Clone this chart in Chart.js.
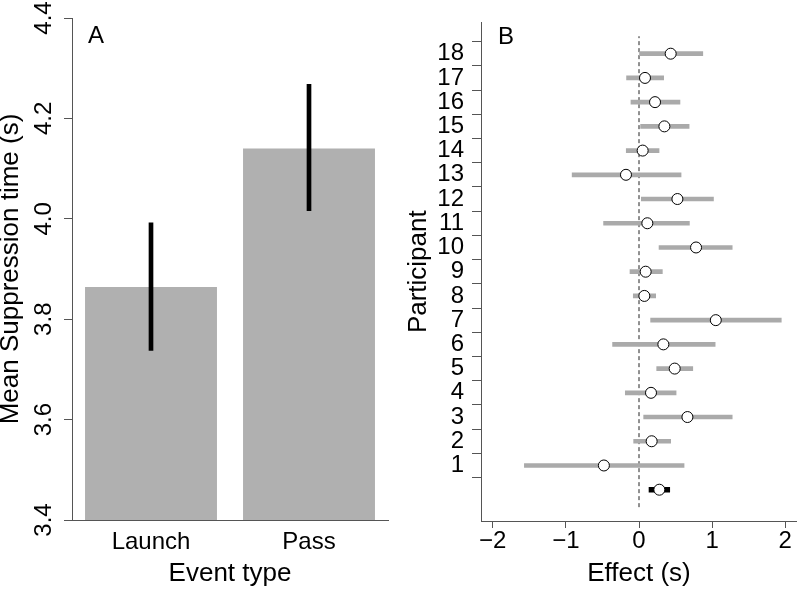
<!DOCTYPE html>
<html>
<head>
<meta charset="utf-8">
<script src="https://cdn.jsdelivr.net/npm/chart.js@4/dist/chart.umd.min.js"></script>
<style>
  html, body { margin: 0; padding: 0; background: #fff; }
  #wrap { position: relative; width: 797px; height: 589px; overflow: hidden; }
  #boxA { position: absolute; left: 0; top: 0; width: 400px; height: 589px; }
  #boxB { position: absolute; left: 400px; top: 0; width: 397px; height: 589px; }
</style>
</head>
<body>
<div id="wrap">
  <div id="boxA"><canvas id="chartA" width="400" height="589"></canvas></div>
  <div id="boxB"><canvas id="chartB" width="397" height="589"></canvas></div>
</div>
<script>
// ---------- Panel A data ----------
const eventTypes = ['Launch', 'Pass'];
const meanSuppression = [3.864, 4.14];
const errLowA = [3.738, 4.016];
const errHighA = [3.992, 4.268];
const yTicksA = [3.4, 3.6, 3.8, 4.0, 4.2, 4.4];
const yTickLabelsA = ['3.4', '3.6', '3.8', '4.0', '4.2', '4.4'];

// ---------- Panel B data ----------
const participants = [1, 2, 3, 4, 5, 6, 7, 8, 9, 10, 11, 12, 13, 14, 15, 16, 17, 18];
const effects = [-0.48, 0.173, 0.662, 0.164, 0.488, 0.333, 1.05, 0.073, 0.091, 0.78, 0.114, 0.525, -0.178, 0.05, 0.347, 0.219, 0.082, 0.433];
const effectLow = [-1.567, -0.073, 0.064, -0.187, 0.242, -0.361, 0.159, -0.078, -0.123, 0.274, -0.484, 0.032, -0.914, -0.174, 0.022, -0.11, -0.17, 0.0];
const effectHigh = [0.616, 0.433, 1.274, 0.507, 0.735, 1.041, 1.945, 0.228, 0.319, 1.274, 0.689, 1.018, 0.575, 0.274, 0.685, 0.56, 0.337, 0.872];
const summaryRow = [0];
const summaryEffect = [0.278];
const summaryLow = [0.137];
const summaryHigh = [0.42];
const xTicksB = [-2, -1, 0, 1, 2];
const xTickLabelsB = ['\u22122', '\u22121', '0', '1', '2'];
const yRangeB = [-0.72, 18.72];
const xRangeB = [-2.16, 2.16];

Chart.defaults.font.family = "'Liberation Sans', Arial, Helvetica, sans-serif";
Chart.defaults.color = '#000';

const AXIS = '#555';
const TICKFONT = { size: 24 };
const TITLEFONT = { size: 26 };

function panelLetter(letter, x, y) {
  return {
    id: 'letter' + letter,
    afterDraw(chart) {
      const ctx = chart.ctx;
      ctx.save();
      ctx.font = "24px 'Liberation Sans', Arial, sans-serif";
      ctx.fillStyle = '#000';
      ctx.textAlign = 'left';
      ctx.textBaseline = 'alphabetic';
      ctx.fillText(letter, x, y);
      ctx.restore();
    }
  };
}

function noSidePadding(s) {
  s.paddingLeft = 0;
  s.paddingRight = 0;
}

// ---------- Chart A ----------
new Chart(document.getElementById('chartA'), {
  type: 'bar',
  data: {
    labels: eventTypes,
    datasets: [
      {
        data: errLowA.map((l, i) => [l, errHighA[i]]),
        backgroundColor: '#000',
        barThickness: 4,
        grouped: false,
        order: 1
      },
      {
        data: meanSuppression,
        backgroundColor: '#b0b0b0',
        barPercentage: 0.835,
        categoryPercentage: 1,
        grouped: false,
        order: 2
      }
    ]
  },
  options: {
    responsive: false,
    animation: false,
    devicePixelRatio: 1,
    layout: { autoPadding: false, padding: { top: 18, right: 12, left: 0, bottom: 0 } },
    plugins: { legend: { display: false }, tooltip: { enabled: false } },
    scales: {
      x: {
        grid: { display: false, drawTicks: false },
        border: { display: true, color: AXIS, width: 1 },
        ticks: { font: TICKFONT, color: '#000', padding: 8 },
        title: { display: true, text: 'Event type', font: TITLEFONT, color: '#000', padding: { top: 0, bottom: 0 } },
        afterFit: s => { s.height = 69; noSidePadding(s); }
      },
      y: {
        min: 3.4,
        max: 4.4,
        afterBuildTicks: s => { s.ticks = yTicksA.map(v => ({ value: v })); },
        ticks: {
          autoSkip: false,
          minRotation: 90,
          maxRotation: 90,
          crossAlign: 'center',
          padding: 3,
          font: TICKFONT,
          color: '#000',
          callback: (v, i) => yTickLabelsA[i]
        },
        grid: { drawOnChartArea: false, drawTicks: true, tickLength: 8, color: AXIS },
        border: { display: true, color: AXIS, width: 1 },
        title: { display: true, text: 'Mean Suppression time (s)', font: TITLEFONT, color: '#000', padding: { top: -5, bottom: 0 } },
        afterFit: s => { s.width = 72; }
      }
    }
  },
  plugins: [panelLetter('A', 88, 43)]
});

// ---------- Chart B ----------
new Chart(document.getElementById('chartB'), {
  type: 'scatter',
  data: {
    datasets: [
      {
        type: 'line',
        data: [{ x: 0, y: yRangeB[0] }, { x: 0, y: yRangeB[1] }],
        borderColor: '#222',
        borderWidth: 1,
        borderDash: [4, 3],
        pointRadius: 0,
        order: 5
      },
      {
        type: 'bar',
        indexAxis: 'y',
        data: participants.map((p, i) => ({ y: p, x: [effectLow[i], effectHigh[i]] })),
        backgroundColor: '#aaaaaa',
        barThickness: 4,
        grouped: false,
        order: 4
      },
      {
        type: 'bar',
        indexAxis: 'y',
        data: summaryRow.map((p, i) => ({ y: p, x: [summaryLow[i], summaryHigh[i]] })),
        backgroundColor: '#000',
        barThickness: 5,
        grouped: false,
        order: 3
      },
      {
        type: 'scatter',
        data: participants.map((p, i) => ({ x: effects[i], y: p }))
          .concat(summaryRow.map((p, i) => ({ x: summaryEffect[i], y: p }))),
        pointRadius: 5.5,
        backgroundColor: '#fff',
        borderColor: '#000',
        borderWidth: 1,
        order: 1
      }
    ]
  },
  options: {
    responsive: false,
    animation: false,
    devicePixelRatio: 1,
    layout: { autoPadding: false, padding: { top: 18, right: 0, left: 0, bottom: 0 } },
    plugins: { legend: { display: false }, tooltip: { enabled: false } },
    scales: {
      x: {
        type: 'linear',
        min: xRangeB[0],
        max: xRangeB[1],
        afterBuildTicks: s => { s.ticks = xTicksB.map(v => ({ value: v })); },
        ticks: { autoSkip: false, font: TICKFONT, color: '#000', padding: -1, callback: (v, i) => xTickLabelsB[i] },
        grid: { drawOnChartArea: false, drawTicks: true, tickLength: 7, color: AXIS },
        border: { display: true, color: AXIS, width: 1 },
        title: { display: true, text: 'Effect (s)', font: TITLEFONT, color: '#000', padding: { top: 0, bottom: 0 } },
        afterFit: s => { s.height = 68; noSidePadding(s); }
      },
      y: {
        type: 'linear',
        min: yRangeB[0],
        max: yRangeB[1],
        afterBuildTicks: s => { s.ticks = participants.map(v => ({ value: v })); },
        ticks: { autoSkip: false, font: TICKFONT, color: '#000', padding: 8, callback: (v, i) => String(participants[i]) },
        grid: { drawOnChartArea: false, drawTicks: true, tickLength: 9, color: AXIS },
        border: { display: true, color: AXIS, width: 1 },
        title: { display: true, text: 'Participant', font: TITLEFONT, color: '#000', padding: { top: 3, bottom: 0 } },
        afterFit: s => { s.width = 81; }
      }
    }
  },
  plugins: [panelLetter('B', 98, 44)]
});
</script>
</body>
</html>
